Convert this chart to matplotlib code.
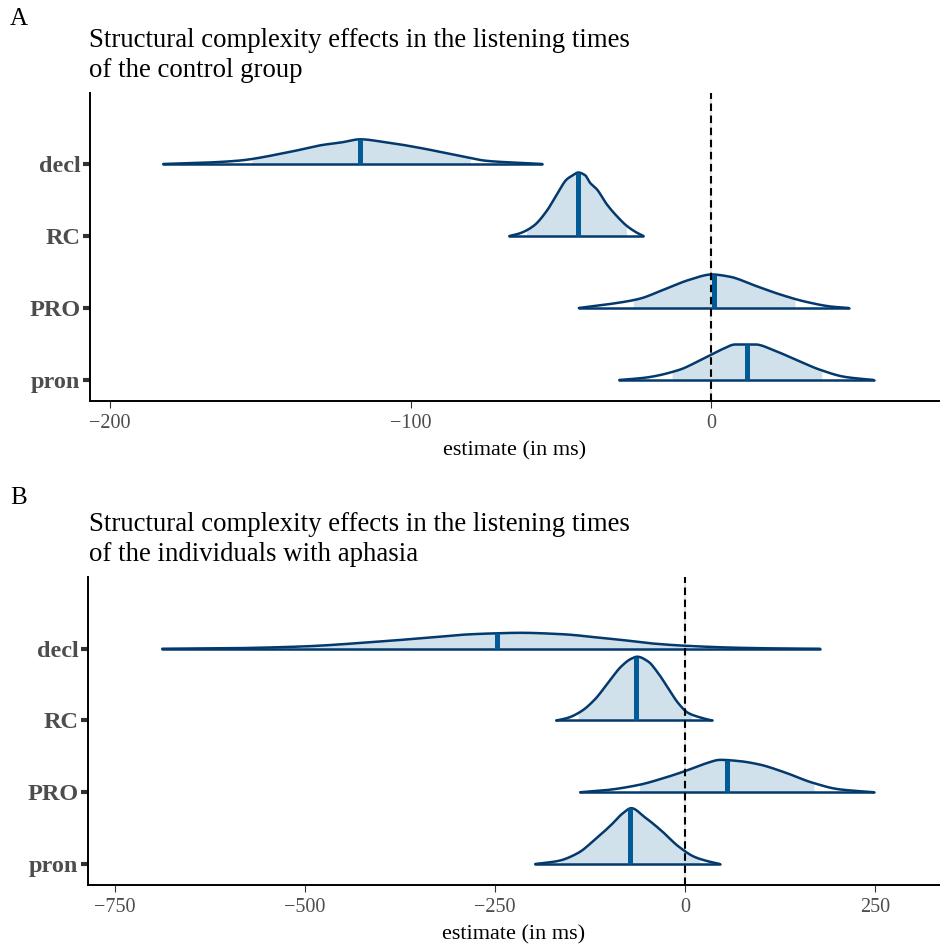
import matplotlib
matplotlib.use("Agg")
import matplotlib.pyplot as plt
import numpy as np

plt.rcParams.update({
    "font.family": "serif",
    "font.serif": ["Liberation Serif", "DejaVu Serif"],
})

OUTLINE = "#03396c"
MEDIAN = "#005b96"
FILL = "#d1e1ec"
TICK_GREY = "#4d4d4d"

# parameters, top to bottom
PARAMS = ["decl", "RC", "PRO", "pron"]

# --- panel A: control group (x in ms, density heights in px of a 72 px row) ---
A_DECL_X = [-182.3, -168.4, -157.4, -140.8, -129.4, -122.8, -116.8, -109.5, -96.2, -85.2, -74.2, -62.9, -56.2]
A_DECL_H = [0, 1.3, 3.3, 11.7, 19, 21.7, 24.7, 22.3, 15.7, 9, 3, 1, 0]
A_RC_X = [-67.1, -63.6, -59.1, -54.7, -51.3, -48.0, -46.0, -44.2, -41.9, -40.3, -38.0, -34.7, -31.4, -28.0, -24.7, -22.5]
A_RC_H = [0, 2.7, 10, 25, 41.7, 56.7, 60.7, 63.5, 60.7, 53.3, 46.7, 31.7, 20, 10, 3.3, 0]
A_PRO_X = [-44.0, -35.2, -24.1, -15.2, -7.4, 0.3, 5.9, 14.7, 22.5, 31.4, 40.3, 45.8]
A_PRO_H = [0, 3.3, 9, 19, 28, 33.5, 31.5, 22.3, 14, 6.3, 1.3, 0]
A_PRON_X = [-30.5, -21.9, -10.7, -3.0, 3.7, 8.1, 14.7, 21.4, 29.2, 35.8, 44.7, 54.1]
A_PRON_H = [0, 2.3, 10, 20.7, 30.7, 35.5, 35.5, 29, 19, 10.7, 3, 0]
A_MEDIAN = [-116.8, -44.4, 0.9, 12.0]
A_CI_LOW = [-153, -61.4, -26, -13]
A_CI_HIGH = [-80, -28.1, 28, 37]

# --- panel B: individuals with aphasia ---
B_DECL_X = [-687.8, -598.7, -506.6, -397.4, -331.6, -282.9, -247.4, -217.1, -161.8, -107.9, -85.5, -46.1, 0.0, 68.4, 125.0, 177.6]
B_DECL_H = [0, 0.5, 2.2, 7.5, 11.5, 14.5, 15.5, 16, 14.6, 10.7, 9, 5.5, 3, 1, 0.3, 0]
B_RC_X = [-169.3, -153.9, -136.4, -118.8, -101.3, -83.8, -70.7, -62.8, -48.7, -35.5, -22.4, -9.2, 3.9, 21.5, 35.5]
B_RC_H = [0, 2.7, 9.3, 21, 37.7, 54.3, 62, 64, 59.3, 47.7, 32.7, 17.7, 7.7, 2.7, 0]
B_PRO_X = [-137.8, -104.9, -61.0, -25.9, 0.4, 26.7, 46.4, 70.7, 97.0, 132.0, 167.1, 202.2, 248.3]
B_PRO_H = [0, 2, 7.3, 14.7, 21.3, 28.7, 32.5, 31.3, 28, 19.7, 9.7, 3, 0]
B_PRON_X = [-197.0, -167.1, -140.8, -118.8, -97.0, -81.6, -70.7, -53.0, -31.2, -9.2, 12.8, 30.3, 45.7]
B_PRON_H = [0, 3, 11, 24.3, 39.3, 51, 56, 47, 33.5, 18, 7, 2.7, 0]
B_MEDIAN = [-247.4, -64.0, 55.3, -72.8]
B_CI_LOW = [-500, -140.6, -60, -164.5]
B_CI_HIGH = [5, 8.5, 170, 19.7]

A_TICKS = [-200, -100, 0]
B_TICKS = [-750, -500, -250, 0, 250]

ROW_PX = 72.0


def smooth(xs, ys, grid):
    """Monotone cubic (Fritsch-Carlson) through the traced points, for drawing."""
    h = np.diff(xs)
    d = np.diff(ys) / h
    m = np.zeros(len(xs))
    m[0], m[-1] = d[0], d[-1]
    for k in range(1, len(xs) - 1):
        if d[k - 1] * d[k] > 0:
            w1 = 2 * h[k] + h[k - 1]
            w2 = h[k] + 2 * h[k - 1]
            m[k] = (w1 + w2) / (w1 / d[k - 1] + w2 / d[k])
    idx = np.clip(np.searchsorted(xs, grid) - 1, 0, len(xs) - 2)
    t = (grid - xs[idx]) / h[idx]
    h00 = 2 * t**3 - 3 * t**2 + 1
    h10 = t**3 - 2 * t**2 + t
    h01 = -2 * t**3 + 3 * t**2
    h11 = t**3 - t**2
    out = h00 * ys[idx] + h10 * h[idx] * m[idx] + h01 * ys[idx + 1] + h11 * h[idx] * m[idx + 1]
    return np.clip(out, 0, None)


def draw_panel(ax, curves, medians, lo, hi, ticks, xlim, ylim):
    ax.set_xlim(*xlim)
    ax.set_ylim(*ylim)
    n = len(PARAMS)
    ax.axvline(0, color="#e5e5e5", lw=1.5, zorder=1)
    for i, (name, (xs, hs)) in enumerate(zip(PARAMS, curves)):
        y0 = n - i
        xs = np.asarray(xs, float)
        hs = np.asarray(hs, float) / ROW_PX
        grid = np.linspace(xs[0], xs[-1], 600)
        dens = smooth(xs, hs, grid)
        inner = (grid >= lo[i]) & (grid <= hi[i])
        ax.fill_between(grid[inner], y0, y0 + dens[inner], color=FILL, lw=0, zorder=2)
        ax.plot(grid, y0 + dens, color=OUTLINE, lw=1.8, zorder=3, solid_capstyle="round")
        ax.plot([xs[0], xs[-1]], [y0, y0], color=OUTLINE, lw=1.8, zorder=3, solid_capstyle="round")
        top = smooth(xs, hs, np.array([medians[i]]))[0]
        ax.plot([medians[i], medians[i]], [y0, y0 + top], color=MEDIAN, lw=3.6,
                zorder=4, solid_capstyle="butt")
    ax.axvline(0, color="black", lw=1.5, ls=(0, (3.6, 2.2)), zorder=5)

    ax.set_yticks(range(n, 0, -1))
    ax.set_yticklabels(PARAMS, fontsize=17.5, fontweight="bold", color=TICK_GREY)
    ax.set_xticks(ticks)
    ax.set_xticklabels([str(t).replace("-", "\u2212") for t in ticks],
                       fontsize=14.5, color=TICK_GREY)
    ax.tick_params(axis="y", length=5, width=3, color="#333333", pad=2)
    ax.tick_params(axis="x", length=5, width=0.8, color="#333333", pad=4)
    ax.set_xlabel("estimate (in ms)", fontsize=16, labelpad=6)
    for side in ("top", "right"):
        ax.spines[side].set_visible(False)
    for side in ("left", "bottom"):
        ax.spines[side].set_linewidth(1.4)


fig = plt.figure(figsize=(9.4, 9.44), dpi=100)
W, H = 940.0, 944.0

ax_a = fig.add_axes([90 / W, 1 - 401 / H, 850 / W, 308 / H])
draw_panel(ax_a,
           [(A_DECL_X, A_DECL_H), (A_RC_X, A_RC_H), (A_PRO_X, A_PRO_H), (A_PRON_X, A_PRON_H)],
           A_MEDIAN, A_CI_LOW, A_CI_HIGH, A_TICKS, (-206.7, 76.2), (0.708, 4.986))

ax_b = fig.add_axes([88 / W, 1 - 885 / H, 852 / W, 308 / H])
draw_panel(ax_b,
           [(B_DECL_X, B_DECL_H), (B_RC_X, B_RC_H), (B_PRO_X, B_PRO_H), (B_PRON_X, B_PRON_H)],
           B_MEDIAN, B_CI_LOW, B_CI_HIGH, B_TICKS, (-785.5, 335.5), (0.707, 5.0))

fig.text(10 / W, 1 - 8 / H, "A", fontsize=18, va="top", ha="left")
fig.text(10 / W, 1 - 487 / H, "B", fontsize=18, va="top", ha="left")
fig.text(89 / W, 1 - 28 / H,
         "Structural complexity effects in the listening times\nof the control group",
         fontsize=19.3, va="top", ha="left", linespacing=1.25)
fig.text(89 / W, 1 - 512 / H,
         "Structural complexity effects in the listening times\nof the individuals with aphasia",
         fontsize=19.3, va="top", ha="left", linespacing=1.25)

fig.savefig("out.png", dpi=100)
